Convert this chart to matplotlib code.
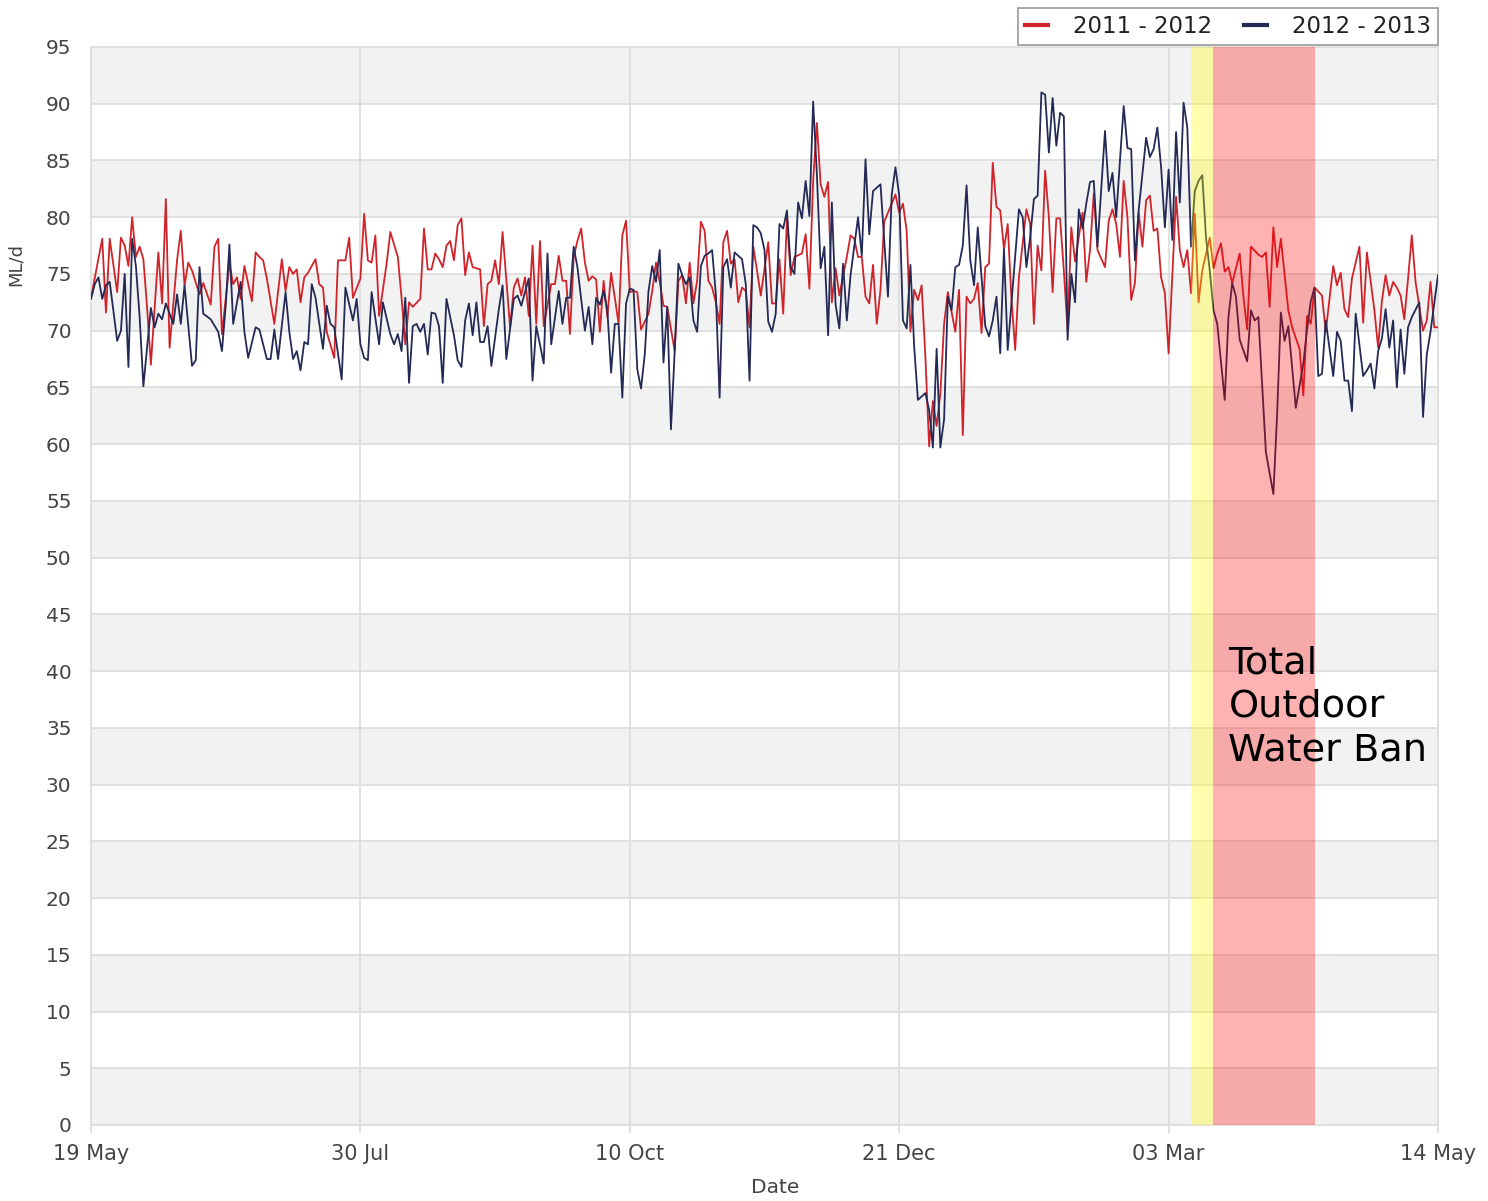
import numpy as np
import matplotlib
matplotlib.use("Agg")
import matplotlib.pyplot as plt

# ---------------- data (day offset from 19 May, value in ML/d) ----------------
start_date = np.datetime64("2012-05-19")

series_labels = ["2011 - 2012", "2012 - 2013"]

red_points = [
    (0,72.9),(3,78.1),(4,71.6),(5,78.1),(7,73.4),(8,78.2),(9,77.5),(10,75.7),(11,80.0),(12,76.5),
    (13,77.4),(14,76.3),(15,72.0),(16,67.0),(18,76.9),(19,72.4),(20,81.6),(21,68.5),(23,76.2),(24,78.8),
    (25,74.0),(26,76.0),(27,75.3),(29,73.2),(30,74.2),(32,72.3),(33,77.4),(34,78.1),(35,69.7),(37,75.9),
    (38,74.1),(39,74.7),(40,72.8),(41,75.7),(43,72.6),(44,76.9),(45,76.5),(46,76.2),(47,74.6),(49,70.6),
    (51,76.3),(52,73.5),(53,75.6),(54,75.0),(55,75.4),(56,72.5),(57,74.7),(58,75.1),(60,76.3),(61,74.1),
    (62,73.8),(63,69.9),(65,67.6),(66,76.2),(68,76.2),(69,78.2),(70,72.9),(72,74.6),(73,80.3),(74,76.2),
    (75,76.0),(76,78.4),(77,71.3),(79,75.9),(80,78.7),(82,76.5),(83,72.9),(84,68.8),(85,72.5),(86,72.1),
    (88,72.8),(89,79.0),(90,75.4),(91,75.4),(92,76.8),(93,76.3),(94,75.6),(95,77.5),(96,77.9),(97,76.2),
    (98,79.3),(99,79.9),(100,74.9),(101,76.9),(102,75.6),(104,75.4),(105,70.4),(106,74.1),(107,74.4),(108,76.2),
    (109,74.1),(110,78.7),(112,70.3),(113,73.8),(114,74.6),(115,73.1),(116,74.7),(117,71.3),(118,77.5),(119,70.6),
    (120,77.9),(121,70.4),(123,74.1),(124,74.1),(125,76.6),(126,74.4),(127,74.4),(128,69.7),(129,76.5),(130,77.9),
    (131,79.0),(132,76.0),(133,74.4),(134,74.8),(135,74.5),(136,69.9),(137,74.4),(138,71.2),(139,75.1),(140,72.9),
    (141,70.6),(142,78.4),(143,79.7),(144,73.4),(145,73.5),(146,73.4),(147,70.1),(149,71.5),(150,73.5),(151,76.0),
    (152,74.3),(153,72.2),(154,72.1),(156,68.2),(157,74.4),(158,74.9),(159,72.4),(160,76.0),(161,72.4),(162,74.4),
    (163,79.6),(164,78.8),(165,74.4),(166,73.8),(167,72.5),(168,70.6),(169,77.8),(170,78.8),(171,75.9),(172,76.3),
    (173,72.5),(174,73.8),(175,73.5),(176,70.3),(177,77.4),(178,75.3),(179,73.1),(181,77.8),(182,72.4),(183,72.4),
    (184,76.3),(185,71.5),(186,79.9),(187,74.9),(188,76.5),(190,76.8),(191,78.5),(192,73.7),(193,83.2),(194,88.3),
    (195,82.9),(196,81.8),(197,83.1),(198,72.5),(199,75.5),(200,73.1),(202,76.5),(203,78.4),(204,78.1),(205,76.5),
    (206,76.5),(207,73.0),(208,72.4),(209,75.8),(210,70.6),(211,73.6),(212,79.6),(214,81.2),(215,82.0),(216,80.4),
    (217,81.2),(218,78.8),(219,69.9),(220,73.6),(221,72.7),(222,74.0),(223,67.7),(224,59.8),(225,63.8),(226,61.6),
    (227,64.5),(228,70.6),(229,73.4),(231,69.9),(232,73.6),(233,60.8),(234,73.0),(235,72.4),(236,72.8),(237,74.2),
    (238,69.8),(239,75.6),(240,75.9),(241,84.8),(242,80.9),(243,80.6),(244,77.2),(245,79.4),(246,72.8),(247,68.3),
    (248,74.7),(250,80.7),(251,79.4),(252,70.6),(253,77.5),(254,75.3),(255,84.1),(256,80.0),(257,73.4),(258,79.9),
    (259,79.9),(260,75.3),(261,70.1),(262,79.1),(263,76.1),(265,80.4),(266,74.3),(267,77.1),(268,82.1),(269,77.1),
    (271,75.6),(272,79.7),(273,80.7),(274,79.4),(275,76.5),(276,83.2),(277,80.0),(278,72.7),(279,74.2),(280,80.4),
    (281,77.4),(282,81.5),(283,81.9),(284,78.8),(285,79.0),(286,74.7),(287,73.3),(288,68.0),(290,81.8),(291,77.1),
    (292,75.6),(293,77.1),(294,73.3),(295,80.3),(296,72.5),(297,75.3),(299,78.2),(300,75.5),(301,76.8),(302,77.7),
    (303,75.2),(304,75.6),(305,74.2),(307,76.8),(308,73.0),(309,70.1),(310,77.4),(312,76.7),(313,76.5),(314,76.9),
    (315,72.1),(316,79.1),(317,75.6),(318,78.1),(320,71.8),(321,70.3),(323,68.4),(324,64.3),(325,71.3),(326,70.6),
    (327,73.8),(329,73.1),(330,69.9),(332,75.7),(333,74.0),(334,75.1),(335,71.9),(336,71.2),(337,74.6),(339,77.4),
    (340,70.7),(341,76.9),(343,71.8),(344,68.5),(345,72.6),(346,74.9),(347,73.1),(348,74.3),(349,73.8),(350,73.1),
    (351,71.0),(352,74.6),(353,78.4),(354,74.3),(356,70.0),(357,70.9),(358,74.3),(359,70.3),(360,70.3),
]

blue_points = [
    (0,72.8),(1,74.1),(2,74.7),(3,72.8),(4,74.0),(5,74.3),(7,69.1),(8,70.0),(9,75.0),(10,66.8),
    (11,78.1),(12,75.7),(13,71.2),(14,65.1),(16,72.0),(17,70.3),(18,71.5),(19,71.0),(20,72.4),(22,70.6),
    (23,73.2),(24,70.6),(25,74.0),(27,66.9),(28,67.4),(29,75.6),(30,71.5),(32,71.0),(34,69.9),(35,68.2),
    (36,72.2),(37,77.6),(38,70.6),(40,74.3),(41,69.9),(42,67.6),(44,70.3),(45,70.1),(47,67.5),(48,67.5),
    (49,70.1),(50,67.5),(52,73.4),(53,69.9),(54,67.5),(55,68.2),(56,66.5),(57,69.0),(58,68.8),(59,74.1),
    (60,72.9),(62,68.4),(63,72.2),(64,70.6),(65,70.3),(67,65.7),(68,73.8),(70,70.9),(71,72.8),(72,68.8),
    (73,67.6),(74,67.4),(75,73.4),(77,68.8),(78,72.5),(80,69.7),(81,68.8),(82,69.7),(83,68.2),(84,72.9),
    (85,65.4),(86,70.4),(87,70.6),(88,69.9),(89,70.6),(90,67.9),(91,71.6),(92,71.5),(93,70.4),(94,65.4),
    (95,72.8),(97,69.6),(98,67.4),(99,66.8),(100,70.9),(101,72.4),(102,69.6),(103,72.5),(104,69.0),(105,69.0),
    (106,70.4),(107,66.9),(109,71.9),(110,74.0),(111,67.5),(113,72.8),(114,73.1),(115,72.2),(117,74.6),(118,65.6),
    (119,70.4),(121,67.1),(122,76.8),(123,68.8),(125,73.5),(126,70.6),(127,72.9),(128,72.9),(129,77.4),(130,75.6),
    (132,70.0),(133,72.1),(134,68.8),(135,72.9),(136,72.3),(137,73.5),(138,71.8),(139,66.3),(140,70.6),(141,70.6),
    (142,64.1),(143,72.4),(144,73.7),(145,73.6),(146,66.6),(147,64.9),(148,67.9),(149,73.5),(150,75.7),(151,74.3),
    (152,77.1),(153,67.2),(154,72.1),(155,61.3),(156,68.2),(157,75.9),(158,74.9),(159,74.1),(160,74.7),(161,70.9),
    (162,69.9),(163,75.7),(164,76.6),(165,76.8),(166,77.1),(167,73.2),(168,64.1),(169,75.6),(170,76.3),(171,73.8),
    (172,76.9),(173,76.6),(174,76.3),(175,74.1),(176,65.6),(177,79.3),(178,79.1),(179,78.6),(180,77.1),(181,70.8),
    (182,69.9),(183,71.5),(184,79.4),(185,79.0),(186,80.6),(187,75.6),(188,75.0),(189,81.3),(190,79.9),(191,83.2),
    (192,80.1),(193,90.2),(194,83.8),(195,75.5),(196,77.4),(197,69.6),(198,81.3),(199,72.3),(200,70.2),(201,75.9),
    (202,70.9),(203,74.9),(205,80.0),(206,76.6),(207,85.1),(208,78.5),(209,82.3),(211,82.9),(213,73.0),(214,82.0),
    (215,84.4),(216,81.9),(217,70.9),(218,70.2),(219,75.8),(220,68.6),(221,63.9),(223,64.5),(224,63.0),(225,59.7),
    (226,68.4),(227,59.7),(228,62.2),(229,73.0),(230,71.8),(231,75.6),(232,75.8),(233,77.5),(234,82.8),(235,76.2),
    (236,74.0),(237,79.1),(239,70.4),(240,69.5),(241,70.9),(242,73.0),(243,68.0),(244,77.2),(245,68.3),(246,72.4),
    (248,80.7),(249,80.0),(250,75.6),(251,78.2),(252,81.6),(253,81.9),(254,91.0),(255,90.8),(256,85.7),(257,90.5),
    (258,86.3),(259,89.2),(260,88.9),(261,69.2),(262,75.0),(263,72.5),(264,80.7),(265,79.0),(266,81.2),(267,83.1),
    (268,83.2),(269,77.4),(271,87.6),(272,82.3),(273,83.9),(274,80.0),(275,85.0),(276,89.8),(277,86.1),(278,86.0),
    (279,76.2),(280,80.6),(282,87.0),(283,85.3),(284,86.0),(285,87.9),(286,84.4),(287,79.1),(288,84.2),(289,78.0),
    (290,87.5),(291,81.3),(292,90.1),(293,87.9),(294,77.4),(295,82.3),(296,83.2),(297,83.7),(298,78.2),(299,75.3),
    (300,71.8),(301,70.6),(303,63.9),(304,71.2),(305,74.2),(306,73.0),(307,69.2),(309,67.3),(310,71.8),(311,70.9),
    (312,71.2),(313,65.3),(314,59.3),(316,55.6),(317,62.6),(318,71.6),(319,69.1),(320,70.4),(321,66.8),(322,63.2),
    (324,67.1),(325,70.1),(326,72.6),(327,73.8),(328,66.0),(329,66.2),(330,70.9),(332,66.0),(333,69.9),(334,69.1),
    (335,65.6),(336,65.6),(337,62.9),(338,71.5),(340,66.0),(341,66.5),(342,67.1),(343,64.9),(344,68.2),(345,69.3),
    (346,71.9),(347,68.5),(348,70.9),(349,65.0),(350,70.1),(351,66.2),(352,70.3),(353,71.2),(355,72.5),(356,62.4),
    (357,67.9),(358,69.9),(360,74.9),
]

tick_days = [0, 72, 144, 216, 288, 360]
tick_labels = ["19 May", "30 Jul", "10 Oct", "21 Dec", "03 Mar", "14 May"]

y_ticks = list(range(0, 100, 5))

stage_days = [294, 300]        # yellow restriction stage
ban_days = [300, 327]          # total outdoor water ban
ban_text = "Total\nOutdoor\nWater Ban"

# ---------------- helpers ----------------
def to_dates(days):
    return start_date + np.array(days).astype("timedelta64[D]")

red_days, red_vals = zip(*red_points)
blue_days, blue_vals = zip(*blue_points)

# ---------------- figure ----------------
fig = plt.figure(figsize=(14.88, 12.01), dpi=100)
ax = fig.add_axes([91/1488, 1 - 1125/1201, 1347/1488, 1078/1201])

ax.set_xlim(to_dates([0])[0], to_dates([360])[0])
ax.set_ylim(0, 95)

# alternating grey bands
for lo in range(0, 95, 10):
    ax.axhspan(lo, lo + 5, color="#f2f2f2", zorder=0, lw=0)

ax.set_yticks(y_ticks)
ax.set_xticks(to_dates(tick_days))
ax.set_xticklabels(tick_labels)
ax.grid(True, color="#dedede", linewidth=1.3, zorder=0.5)
ax.set_axisbelow(True)

for s in ax.spines.values():
    s.set_color("#dedede")
    s.set_linewidth(1.3)

ax.tick_params(axis="x", colors="#dddddd", labelcolor="#444444", labelsize=15,
               length=6, width=1.3, pad=8)
ax.tick_params(axis="y", length=0, labelcolor="#444444", labelsize=14.5, pad=14)

l1, = ax.plot(to_dates(red_days), red_vals, color="#d0232a", lw=1.3, zorder=3,
              label=series_labels[0])
l2, = ax.plot(to_dates(blue_days), blue_vals, color="#232a55", lw=1.3, zorder=4,
              label=series_labels[1])

# bands drawn over the lines
ax.axvspan(to_dates([stage_days[0]])[0], to_dates([stage_days[1]])[0],
           color="#ffff00", alpha=0.32, lw=0, zorder=5)
ax.axvspan(to_dates([ban_days[0]])[0], to_dates([ban_days[1]])[0],
           color="#ff0000", alpha=0.30, lw=0, zorder=5)

ax.text(to_dates([304.5])[0], 42.3, ban_text, fontsize=27.5, color="black",
        va="top", ha="left", linespacing=1.27, zorder=6)

ax.set_xlabel("Date", fontsize=14.5, color="#444444")
ax.xaxis.set_label_coords(0.508, -0.049)
ax.set_ylabel("ML/d", fontsize=13, color="#444444")
ax.yaxis.set_label_coords(-0.049, 0.798)

leg = fig.legend(handles=[l1, l2], loc="upper right",
                 bbox_to_anchor=(1438/1488, 1 - 8/1201), ncol=2,
                 fontsize=16.5, frameon=True, fancybox=False, edgecolor="#8a8a8a",
                 handlelength=1.0, handletextpad=1.1, columnspacing=1.4,
                 borderpad=0.3, borderaxespad=0.0)
for h in leg.legend_handles:
    h.set_linewidth(3)
leg.get_frame().set_linewidth(1.3)
for t in leg.get_texts():
    t.set_color("#222222")

fig.savefig("out.png", dpi=100)
